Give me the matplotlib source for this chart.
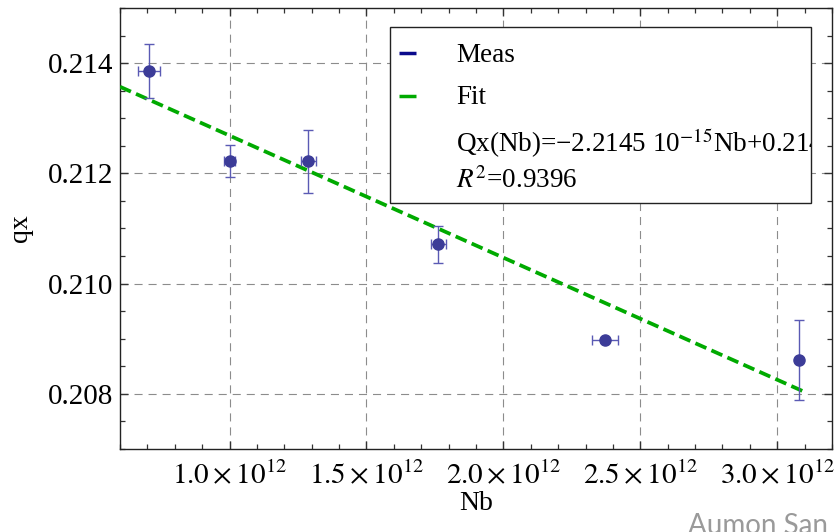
import matplotlib
matplotlib.use("Agg")
import matplotlib.pyplot as plt
from matplotlib.patches import Rectangle
from matplotlib.ticker import MultipleLocator, FuncFormatter
import numpy as np

# Measured tune vs. bunch intensity
nb = [0.705e12, 1.000e12, 1.288e12, 1.763e12, 2.370e12, 3.081e12]
nb_err = [0.040e12, 0.020e12, 0.026e12, 0.029e12, 0.047e12, 0.0]
qx = [0.21386, 0.21222, 0.21222, 0.21071, 0.20897, 0.20861]
qx_err = [0.00049, 0.00029, 0.00057, 0.00033, 0.0, 0.00073]

# Linear fit Qx(Nb) = slope * Nb + intercept
fit_slope = -2.2145e-15
fit_intercept = 0.2149
fit_range = [0.6e12, 3.1e12]
r_squared = 0.9396

x_ticks = [1.0e12, 1.5e12, 2.0e12, 2.5e12, 3.0e12]
y_ticks = [0.208, 0.210, 0.212, 0.214]

plt.rcParams["font.family"] = ["Liberation Serif", "DejaVu Serif"]
plt.rcParams["mathtext.fontset"] = "stix"
plt.rcParams["lines.scale_dashes"] = False

W, H = 835, 532
fig = plt.figure(figsize=(W / 100, H / 100), dpi=100)
ax = fig.add_axes([120 / W, 1 - 449 / H, 712 / W, 441 / H])

ax.set_xlim(0.6e12, 3.2e12)
ax.set_ylim(0.207, 0.215)

# grid
grid_kw = dict(color="#8c8c8c", lw=0.8, dashes=(5.8, 4.3), zorder=1)
for xv in x_ticks:
    ax.axvline(xv, **grid_kw)
for yv in y_ticks:
    ax.axhline(yv, **grid_kw)

# fit line
xf = np.array(fit_range)
ax.plot(xf, fit_slope * xf + fit_intercept, color="#00aa00", lw=2.7,
        dashes=(8.6, 4.0), zorder=3, dash_capstyle="butt")

# measurements
ax.errorbar(nb, qx, xerr=nb_err, yerr=qx_err, fmt="o", ms=8,
            color="#3c3c98", mec="#3c3c98", ecolor="#5a5ab4", elinewidth=1.0,
            capsize=3.5, capthick=1.0, zorder=4)

# ticks
ax.xaxis.set_major_locator(MultipleLocator(0.5e12))
ax.xaxis.set_minor_locator(MultipleLocator(0.1e12))
ax.yaxis.set_major_locator(MultipleLocator(0.002))
ax.yaxis.set_minor_locator(MultipleLocator(0.0005))


def fmt_x(v, pos):
    return r"$%.1f\times10^{12}$" % (v / 1e12)


ax.xaxis.set_major_formatter(FuncFormatter(fmt_x))
ax.yaxis.set_major_formatter(FuncFormatter(lambda v, p: "%.3f" % v))
ax.tick_params(which="both", direction="in", top=True, right=True,
               color="#333333", labelsize=21)
ax.tick_params(which="major", length=6, width=1.0)
ax.tick_params(which="minor", length=3.5, width=0.9)
ax.tick_params(axis="x", which="major", pad=8)
ax.tick_params(axis="y", which="major", pad=5)
for s in ax.spines.values():
    s.set_linewidth(1.0)
    s.set_color("#222222")

ax.set_xlabel("Nb", fontsize=20)
ax.xaxis.set_label_coords(0.5, -(503 - 449) / 441)
ax.xaxis.label.set_va("center")
ax.set_ylabel("qx", fontsize=20)
ax.yaxis.set_label_coords(-(120 - 21) / 712, 0.5)
ax.yaxis.label.set_va("center")

# legend box
box = Rectangle((0.379, 0.558), 0.5915, 0.399, transform=ax.transAxes,
                facecolor="white", edgecolor="#222222", lw=1.0, zorder=10)
ax.add_patch(box)

row_base = [(449 - 61.5) / 441, (449 - 103.5) / 441, (449 - 152) / 441,
            (449 - 188.5) / 441]
row_mid = [(449 - 53) / 441, (449 - 96) / 441]
sw_x = [(399 - 120) / 712, (416 - 120) / 712]
txt_x = (456 - 120) / 712

ax.plot(sw_x, [row_mid[0]] * 2, color="#0a0a8c", lw=2.5,
        transform=ax.transAxes, zorder=11, solid_capstyle="butt")
ax.plot(sw_x, [row_mid[1]] * 2, color="#00aa00", lw=2.5,
        transform=ax.transAxes, zorder=11, solid_capstyle="butt")

legend_texts = [
    "Meas",
    "Fit",
    "Qx(Nb)=\u22122.2145 10$^{-15}$Nb+%.4f" % fit_intercept,
    "$R^2$=%.4f" % r_squared,
]
for ty, s in zip(row_base, legend_texts):
    t = ax.text(txt_x, ty, s, transform=ax.transAxes, fontsize=19.5,
                va="baseline", ha="left", zorder=12, clip_on=True)
    t.set_clip_path(box)

fig.text(688 / W, 1 - 534 / H, "Aumon San", color="#9a9a9a", fontsize=20,
         family=["Lato", "DejaVu Sans"], ha="left", va="baseline")

fig.savefig("out.png", dpi=100)
